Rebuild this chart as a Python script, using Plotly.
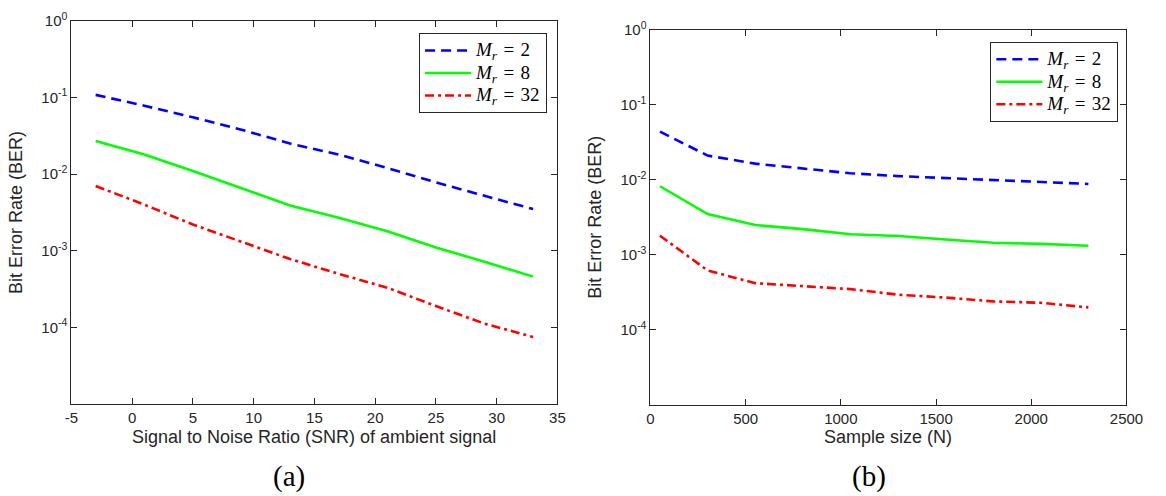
import plotly.graph_objects as go

# ---- data ----
snr = [-3, 1, 5, 9, 13, 17, 21, 25, 29, 33]
ber_snr_m2 = [0.108, 0.078, 0.055, 0.038, 0.025, 0.018, 0.012, 0.0078, 0.0052, 0.0035]
ber_snr_m8 = [0.027, 0.018, 0.011, 0.0066, 0.0039, 0.0027, 0.0018, 0.0011, 0.00072, 0.00046]
ber_snr_m32 = [0.0070, 0.0040, 0.0022, 0.0013, 0.00078, 0.00050, 0.00033, 0.00019, 0.000112, 0.000075]

n_samples = [50, 300, 550, 800, 1050, 1300, 1550, 1800, 2050, 2300]
ber_n_m2 = [0.0438, 0.021, 0.0164, 0.014, 0.0122, 0.0112, 0.0105, 0.0099, 0.0093, 0.0088]
ber_n_m8 = [0.0082, 0.0035, 0.0025, 0.0022, 0.00188, 0.00178, 0.0016, 0.00145, 0.0014, 0.00132]
ber_n_m32 = [0.0018, 0.00062, 0.00042, 0.00038, 0.00035, 0.000295, 0.00027, 0.00024, 0.00023, 0.0002]

mr_values = ["2", "8", "32"]
y_tickvals = [1, 0.1, 0.01, 0.001, 0.0001]
y_ticktext = ["10<sup>0</sup>", "10<sup>-1</sup>", "10<sup>-2</sup>", "10<sup>-3</sup>", "10<sup>-4</sup>"]
minor_vals = [k * 10.0 ** e for e in range(-5, 0) for k in range(2, 10)]
x1_tickvals = [-5, 0, 5, 10, 15, 20, 25, 30, 35]
x1_ticktext = ["-5", "0", "5", "10", "15", "20", "25", "30", "35"]
x2_tickvals = [0, 500, 1000, 1500, 2000, 2500]
x2_ticktext = ["0", "500", "1000", "1500", "2000", "2500"]
x1_title = "Signal to Noise Ratio (SNR) of ambient signal"
x2_title = "Sample size (N)"

series_names = ['<span style="font-size:19px"><i>M</i><sub><i>r</i></sub>\u2004=\u2004%s</span>' % v
                for v in mr_values]

styles = [
    dict(color="#0000FF", width=2.6, dash="10px,6px"),
    dict(color="#00FF00", width=2.6, dash="solid"),
    dict(color="#FF0000", width=2.6, dash="9px,4px,3px,4px"),
]

fig = go.Figure()
for name, ys, st in zip(series_names, [ber_snr_m2, ber_snr_m8, ber_snr_m32], styles):
    fig.add_trace(go.Scatter(x=snr, y=ys, mode="lines", name=name, line=st,
                             xaxis="x", yaxis="y", legend="legend"))
for name, ys, st in zip(series_names, [ber_n_m2, ber_n_m8, ber_n_m32], styles):
    fig.add_trace(go.Scatter(x=n_samples, y=ys, mode="lines", name=name, line=st,
                             xaxis="x2", yaxis="y2", legend="legend2"))

W, H = 1166, 496
axcol = "#262626"
sans = "Liberation Sans, Arial, Helvetica, sans-serif"
serif = "Liberation Serif, DejaVu Serif, serif"
tickfont = dict(family=sans, size=15, color=axcol)
titlefont = dict(family=sans, size=18, color=axcol)

def xax(domain, rng, tv, tt, anchor):
    return dict(domain=domain, range=rng, tickmode="array", tickvals=tv, ticktext=tt, anchor=anchor,
                showline=True, linecolor=axcol, linewidth=1, mirror="ticks",
                ticks="inside", ticklen=6, tickwidth=1.2, tickcolor=axcol,
                showgrid=False, zeroline=False,
                tickfont=tickfont)

def yax(domain, anchor):
    return dict(domain=domain, type="log", range=[-5, 0], anchor=anchor,
                tickmode="array", tickvals=y_tickvals, ticktext=y_ticktext,
                showline=True, linecolor=axcol, linewidth=1, mirror="ticks",
                ticks="inside", ticklen=6, tickwidth=1.2, tickcolor=axcol,
                showgrid=False, zeroline=False,
                tickfont=tickfont, title=dict(text="Bit Error Rate (BER)", font=titlefont, standoff=14))

def ymin(domain, anchor, over):
    return dict(domain=domain, type="log", range=[-5, 0], anchor=anchor, overlaying=over,
                tickmode="array", tickvals=minor_vals, showticklabels=False,
                showline=False, mirror="ticks", ticks="inside", ticklen=3, tickwidth=1,
                tickcolor=axcol, showgrid=False, zeroline=False)

legfont = dict(family=serif, size=15, color="black")

yd1 = [1 - 402 / H, 1 - 10 / H]
yd2 = [1 - 403 / H, 1 - 19 / H]

fig.update_layout(
    width=W, height=H, margin=dict(l=0, r=0, t=0, b=0),
    paper_bgcolor="white", plot_bgcolor="white",
    xaxis=xax([65.7 / W, 562 / W], [-5, 35], x1_tickvals, x1_ticktext, "y"),
    yaxis=yax(yd1, "x"),
    xaxis2=xax([657 / W, 1143 / W], [0, 2500], x2_tickvals, x2_ticktext, "y2"),
    yaxis2=yax(yd2, "x2"),
    yaxis3=ymin(yd1, "x", "y"),
    yaxis4=ymin(yd2, "x2", "y2"),
    legend=dict(x=420.7 / W, y=1 - 22.7 / H, xanchor="left", yanchor="top", font=legfont,
                bordercolor=axcol, borderwidth=1, bgcolor="white", tracegroupgap=0, itemwidth=46),
    legend2=dict(x=1004 / W, y=1 - 31.7 / H, xanchor="left", yanchor="top", font=legfont,
                 bordercolor=axcol, borderwidth=1, bgcolor="white", tracegroupgap=0, itemwidth=46),
    showlegend=True,
    annotations=[
        dict(text=x1_title, x=(65.7 + 562) / 2 / W, y=1 - 436 / H, xref="paper", yref="paper",
             showarrow=False, xanchor="center", yanchor="middle", font=titlefont),
        dict(text=x2_title, x=(657 + 1143) / 2 / W, y=1 - 436 / H, xref="paper", yref="paper",
             showarrow=False, xanchor="center", yanchor="middle", font=titlefont),
        dict(text="(a)", x=288 / W, y=1 - 476 / H, xref="paper", yref="paper", showarrow=False,
             xanchor="center", yanchor="middle", font=dict(family=serif, size=29, color="black")),
        dict(text="(b)", x=880 / W, y=1 - 476 / H, xref="paper", yref="paper", showarrow=False,
             xanchor="center", yanchor="middle", font=dict(family=serif, size=29, color="black")),
    ],
)

fig.write_html("out.html")
